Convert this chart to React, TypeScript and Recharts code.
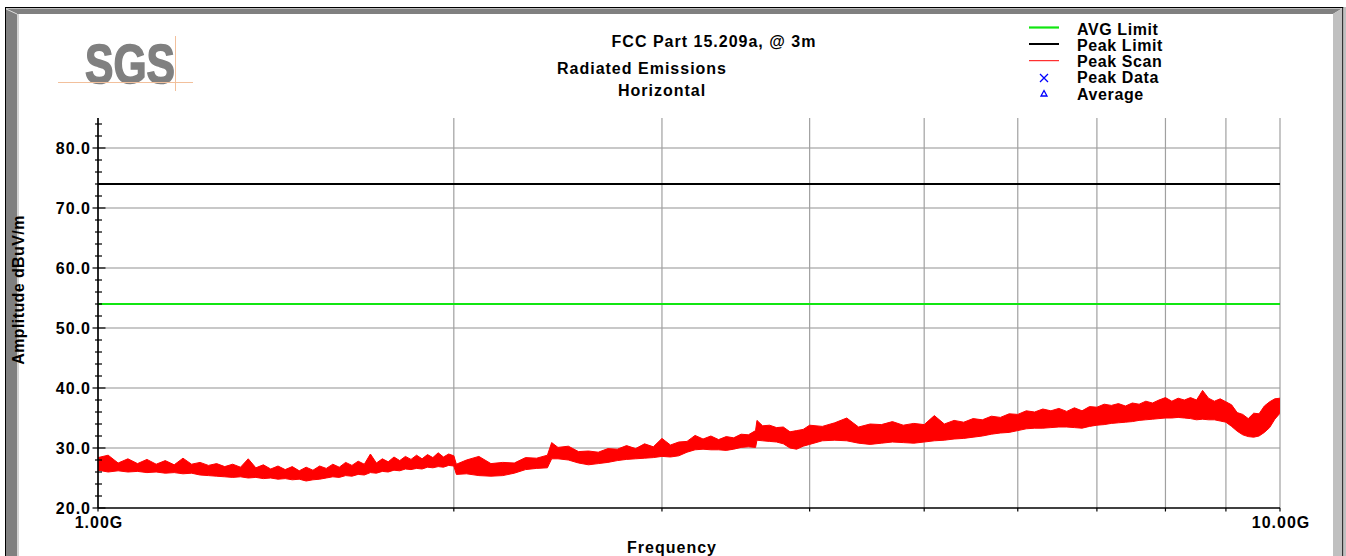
import React from 'react';
import { ComposedChart, Area, XAxis, YAxis, CartesianGrid, ReferenceLine } from 'recharts';

// Peak scan sweep, frequency in GHz with low/high edge of the trace in dBuV/m
const FREQ_GHZ = [
  1.00, 1.02, 1.04, 1.06, 1.08, 1.10, 1.12, 1.14, 1.16, 1.18,
  1.20, 1.22, 1.24, 1.26, 1.28, 1.30, 1.32, 1.34, 1.36, 1.38,
  1.40, 1.42, 1.44, 1.46, 1.48, 1.50, 1.52, 1.54, 1.56, 1.58,
  1.60, 1.62, 1.64, 1.66, 1.68, 1.70, 1.72, 1.74, 1.76, 1.78,
  1.80, 1.82, 1.84, 1.86, 1.88, 1.90, 1.92, 1.94, 1.96, 1.98,
  2.00, 2.01, 2.05, 2.10, 2.15, 2.20, 2.25, 2.30, 2.35, 2.40,
  2.42, 2.45, 2.50, 2.55, 2.60, 2.65, 2.70, 2.75, 2.80, 2.85,
  2.90, 2.95, 3.00, 3.05, 3.10, 3.15, 3.20, 3.25, 3.30, 3.35,
  3.40, 3.45, 3.50, 3.55, 3.60, 3.61, 3.65, 3.70, 3.75, 3.80,
  3.85, 3.90, 3.95, 4.00, 4.1, 4.2, 4.3, 4.4, 4.5, 4.6,
  4.7, 4.8, 4.9, 5.0, 5.1, 5.2, 5.3, 5.4, 5.5, 5.6,
  5.7, 5.8, 5.9, 6.0, 6.1, 6.2, 6.3, 6.4, 6.5, 6.6,
  6.7, 6.8, 6.9, 7.0, 7.1, 7.2, 7.3, 7.4, 7.5, 7.6,
  7.7, 7.8, 7.9, 8.0, 8.1, 8.2, 8.3, 8.4, 8.5, 8.6,
  8.7, 8.8, 8.9, 9.0, 9.1, 9.2, 9.3, 9.4, 9.5, 9.6,
  9.7, 9.8, 9.9, 10.0,
];

const SCAN_LO = [
  26.3, 26.0, 26.2, 26.0, 26.1, 25.9, 26.0, 25.8, 25.9, 25.7,
  25.8, 25.5, 25.4, 25.3, 25.2, 25.1, 25.2, 25.0, 25.1, 24.9,
  25.0, 24.8, 24.9, 24.7, 24.8, 24.5, 24.7, 24.8, 25.0, 25.2,
  25.1, 25.4, 25.3, 25.6, 25.5, 25.9, 25.8, 26.1, 26.0, 26.3,
  26.2, 26.5, 26.4, 26.6, 26.5, 26.8, 26.7, 26.9, 26.8, 27.1,
  27.0, 25.6, 25.7, 25.4, 25.3, 25.4, 25.8, 26.4, 26.6, 26.7,
  28.2, 28.2, 28.0, 27.5, 27.2, 27.4, 27.6, 27.9, 28.1, 28.2,
  28.3, 28.4, 28.6, 28.5, 28.7, 29.3, 29.7, 29.8, 29.7, 29.7,
  29.6, 29.8, 30.1, 30.2, 30.1, 31.3, 31.2, 31.1, 31.0, 30.7,
  30.0, 29.8, 30.3, 30.6, 31.2, 31.3, 31.2, 30.8, 30.6, 30.8,
  31.0, 30.9, 30.8, 31.0, 31.2, 31.3, 31.5, 31.6, 31.8, 32.0,
  32.3, 32.5, 32.6, 32.9, 33.2, 33.3, 33.3, 33.4, 33.5, 33.5,
  33.4, 33.3, 33.6, 33.8, 33.9, 34.1, 34.2, 34.3, 34.4, 34.6,
  34.7, 34.8, 34.9, 35.0, 35.0, 35.1, 35.0, 34.9, 34.7, 34.8,
  34.7, 34.7, 34.5, 34.3, 33.6, 32.8, 32.2, 31.9, 31.8, 32.0,
  32.6, 33.4, 34.8, 35.8,
];

const SCAN_HI = [
  28.4, 28.8, 27.5, 28.2, 27.4, 28.1, 27.3, 27.9, 27.2, 28.3,
  27.3, 27.6, 27.1, 27.4, 26.9, 27.3, 26.8, 28.2, 26.7, 27.2,
  26.5, 27.0, 26.4, 26.9, 26.2, 26.8, 26.3, 27.0, 26.6, 27.3,
  26.8, 27.6, 27.1, 27.8, 27.3, 29.0, 27.5, 28.2, 27.7, 28.5,
  27.9, 28.6, 28.1, 28.8, 28.2, 28.9, 28.4, 29.2, 28.5, 29.0,
  28.7, 27.3, 28.0, 28.6, 27.4, 27.6, 27.5, 28.4, 28.3, 28.8,
  30.9, 30.1, 30.3, 29.4, 29.5, 29.3, 29.9, 29.8, 30.4, 29.9,
  30.7, 30.2, 31.6, 30.5, 31.0, 31.1, 32.1, 31.5, 32.0, 31.4,
  31.9, 31.7, 32.3, 32.2, 32.9, 34.6, 33.7, 33.8, 33.4, 33.5,
  32.7, 32.9, 33.1, 33.8, 33.6, 34.2, 35.0, 33.5, 34.0, 33.9,
  34.4, 33.8, 34.1, 33.9, 35.4, 34.0, 34.6, 34.3, 34.9, 34.7,
  35.3, 35.1, 35.7, 35.6, 36.2, 36.0, 36.5, 36.2, 36.6, 36.1,
  36.7, 36.2, 36.9, 36.8, 37.3, 37.1, 37.4, 37.0, 37.5, 37.3,
  37.8, 37.5, 38.0, 38.4, 37.8, 38.3, 38.0, 38.4, 38.0, 39.6,
  38.3, 37.8, 38.2, 37.7, 37.2, 35.9, 35.6, 34.9, 35.8, 35.7,
  37.0, 37.7, 38.2, 38.3,
];

const AVG_LIMIT = 54;
const PEAK_LIMIT = 74;

const X_TICKS = [1, 2, 3, 4, 5, 6, 7, 8, 9, 10];
const X_LABELS: Record<number, string> = { 1: '1.00G', 10: '10.00G' };
const Y_TICKS = [
  20, 22, 24, 26, 28, 30, 32, 34, 36, 38, 40, 42, 44, 46, 48, 50,
  52, 54, 56, 58, 60, 62, 64, 66, 68, 70, 72, 74, 76, 78, 80, 82, 84,
];
const Y_GRID = [30, 40, 50, 60, 70, 80];

const TITLE = ['FCC Part 15.209a, @ 3m', 'Radiated Emissions', 'Horizontal'];
const LEGEND = ['AVG Limit', 'Peak Limit', 'Peak Scan', 'Peak Data', 'Average'];

const FONT = "'Liberation Sans', Arial, sans-serif";
const GREEN = '#11e611';

const scan = FREQ_GHZ.map((f, i) => ({ f, band: [SCAN_LO[i], SCAN_HI[i]] }));

const YTick = (props: any) => {
  const { x, y, payload } = props;
  const v = payload.value;
  const major = v % 10 === 0;
  return (
    <g>
      <line x1={x - (major ? 5.5 : 3)} x2={x + (major ? 7.5 : 4)} y1={y} y2={y} stroke="#000" strokeWidth={1.2} />
      {major && (
        <text x={x - 7} y={y + 5.5} textAnchor="end" fontFamily={FONT} fontWeight="bold" fontSize={16} letterSpacing={1} fill="#000">
          {v.toFixed(1)}
        </text>
      )}
    </g>
  );
};

const XTick = (props: any) => {
  const { x, y, payload } = props;
  const label = X_LABELS[payload.value];
  return (
    <g>
      <line x1={x} x2={x} y1={y} y2={y + 3.5} stroke="#000" strokeWidth={1.2} />
      {label && (
        <text x={x + 1} y={y + 20} textAnchor="middle" fontFamily={FONT} fontWeight="bold" fontSize={16} letterSpacing={1} fill="#000">
          {label}
        </text>
      )}
    </g>
  );
};

export default function App() {
  return (
    <div style={{ position: 'absolute', left: 0, top: 0, width: 1346, height: 556, background: '#fff', overflow: 'hidden' }}>
      <ComposedChart width={1346} height={556} data={scan} margin={{ top: 118, right: 66, bottom: 0, left: 0 }}>
        <CartesianGrid vertical={false} horizontalValues={Y_GRID} stroke="#c8c8c8" strokeWidth={2} />
        <CartesianGrid horizontal={false} stroke="#a0a0a0" strokeWidth={1.2} />
        <XAxis
          dataKey="f"
          type="number"
          scale="log"
          domain={[1, 10]}
          ticks={X_TICKS}
          interval={0}
          height={48}
          tickSize={0}
          tickMargin={0}
          tickLine={false}
          tick={XTick}
          axisLine={{ stroke: '#000', strokeWidth: 1.6 }}
          allowDataOverflow
        />
        <YAxis
          type="number"
          domain={[20, 85]}
          ticks={Y_TICKS}
          interval={0}
          width={98}
          tickSize={0}
          tickMargin={0}
          tickLine={false}
          tick={YTick}
          axisLine={{ stroke: '#000', strokeWidth: 1.6 }}
          allowDataOverflow
        />
        <ReferenceLine y={PEAK_LIMIT} stroke="#000" strokeWidth={2} />
        <ReferenceLine y={AVG_LIMIT} stroke={GREEN} strokeWidth={2} />
        <Area
          dataKey="band"
          type="linear"
          stroke="#ff0000"
          strokeWidth={1}
          fill="#ff0000"
          fillOpacity={1}
          dot={false}
          activeDot={false}
          isAnimationActive={false}
        />
      </ComposedChart>

      <svg width={1346} height={556} style={{ position: 'absolute', left: 0, top: 0, pointerEvents: 'none' }}>
        {/* sunken window frame */}
        <polygon points="5.5,8.5 1342,8.5 1333,14 17,14" fill="#808080" />
        <polygon points="5.5,8.5 17,14 17,556 5.5,556" fill="#808080" />
        <rect x={17} y={14} width={2} height={542} fill="#d4d4d4" />
        <line x1={6} y1={9} x2={17} y2={14} stroke="#d8d8d8" strokeWidth={1} />
        <polygon points="1333,14 1342,8.5 1342,556 1333,556" fill="#c0c0c0" />
        <line x1={5} y1={7.5} x2={1343.5} y2={7.5} stroke="#000" strokeWidth={1.2} />
        <line x1={5.5} y1={7} x2={5.5} y2={556} stroke="#000" strokeWidth={1} />
        <line x1={1342.8} y1={7} x2={1342.8} y2={556} stroke="#000" strokeWidth={1.2} />
        <rect x={1343.5} y={7} width={3} height={549} fill="#c0c0c0" />

        {/* logo */}
        <text
          x={85}
          y={83}
          fontFamily={FONT}
          fontWeight="bold"
          fontSize={56}
          fill="#808080"
          stroke="#808080"
          strokeWidth={1.6}
          textLength={90}
          lengthAdjust="spacingAndGlyphs"
        >
          SGS
        </text>
        <line x1={58} y1={82.5} x2={193} y2={82.5} stroke="#f2c09c" strokeWidth={1} />
        <line x1={175.5} y1={36} x2={175.5} y2={91} stroke="#f2c09c" strokeWidth={1} />

        {/* title */}
        <g fontFamily={FONT} fontWeight="bold" fontSize={16} letterSpacing={1} fill="#000" textAnchor="middle">
          <text x={714} y={47}>{TITLE[0]}</text>
          <text x={642} y={74}>{TITLE[1]}</text>
          <text x={662} y={96}>{TITLE[2]}</text>
        </g>

        {/* legend */}
        <line x1={1029} y1={27.5} x2={1059} y2={27.5} stroke={GREEN} strokeWidth={2.2} />
        <line x1={1029} y1={44} x2={1059} y2={44} stroke="#000" strokeWidth={2} />
        <line x1={1029} y1={60.7} x2={1059} y2={60.7} stroke="#ff0000" strokeWidth={1} />
        <path d="M1040,74 L1048,82 M1048,74 L1040,82" stroke="#0000ff" strokeWidth={1.3} />
        <path d="M1044,90.5 L1047,96 L1041,96 Z" fill="none" stroke="#0000ff" strokeWidth={1.3} />
        <g fontFamily={FONT} fontWeight="bold" fontSize={16} letterSpacing={0.6} fill="#000">
          {LEGEND.map((name, i) => (
            <text key={name} x={1077} y={34.5 + i * 16.3}>{name}</text>
          ))}
        </g>

        {/* axis titles */}
        <text
          x={0}
          y={0}
          transform="translate(24,290) rotate(-90)"
          textAnchor="middle"
          fontFamily={FONT}
          fontWeight="bold"
          fontSize={16}
          letterSpacing={0.4}
          fill="#000"
        >
          Amplitude dBuV/m
        </text>
        <text x={672} y={553} textAnchor="middle" fontFamily={FONT} fontWeight="bold" fontSize={16} letterSpacing={1} fill="#000">
          Frequency
        </text>
      </svg>
    </div>
  );
}
